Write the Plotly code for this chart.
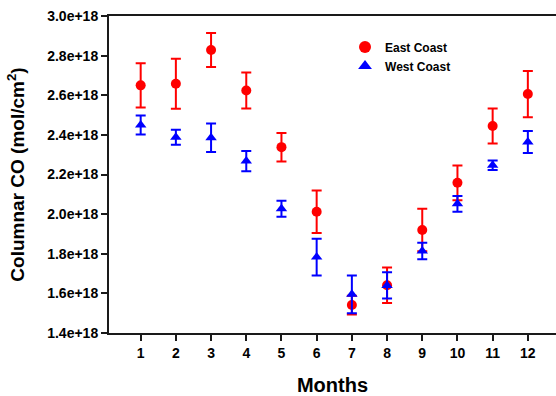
import plotly.graph_objects as go

months = [1, 2, 3, 4, 5, 6, 7, 8, 9, 10, 11, 12]
month_labels = ["1", "2", "3", "4", "5", "6", "7", "8", "9", "10", "11", "12"]

east_co = [2.650e18, 2.658e18, 2.828e18, 2.624e18, 2.338e18, 2.012e18,
           1.541e18, 1.641e18, 1.920e18, 2.158e18, 2.445e18, 2.606e18]
east_err = [0.112e18, 0.126e18, 0.086e18, 0.091e18, 0.072e18, 0.107e18,
            0.047e18, 0.090e18, 0.107e18, 0.088e18, 0.088e18, 0.117e18]

west_co = [2.450e18, 2.388e18, 2.386e18, 2.268e18, 2.027e18, 1.783e18,
           1.595e18, 1.640e18, 1.814e18, 2.052e18, 2.247e18, 2.364e18]
west_err = [0.048e18, 0.038e18, 0.072e18, 0.051e18, 0.040e18, 0.093e18,
            0.095e18, 0.066e18, 0.042e18, 0.040e18, 0.024e18, 0.055e18]

y_ticks = [1.4e18, 1.6e18, 1.8e18, 2.0e18, 2.2e18, 2.4e18, 2.6e18, 2.8e18, 3.0e18]
y_tick_labels = ["1.4e+18", "1.6e+18", "1.8e+18", "2.0e+18", "2.2e+18",
                 "2.4e+18", "2.6e+18", "2.8e+18", "3.0e+18"]

FONT = "Arial, Liberation Sans, sans-serif"

fig = go.Figure()
fig.add_trace(go.Scatter(
    x=months, y=east_co, mode="markers", name="<b>East Coast</b>",
    marker=dict(symbol="circle", size=10, color="#ff0000"),
    error_y=dict(type="data", array=east_err, color="#ff0000", thickness=2, width=5),
))
fig.add_trace(go.Scatter(
    x=months, y=west_co, mode="markers", name="<b>West Coast</b>",
    marker=dict(symbol="triangle-up", size=10, color="#0000ff"),
    error_y=dict(type="data", array=west_err, color="#0000ff", thickness=2, width=5),
))

fig.update_layout(
    width=556, height=396,
    margin=dict(l=109, r=0, t=16, b=63),
    paper_bgcolor="white", plot_bgcolor="white",
    font=dict(family=FONT, color="black"),
    showlegend=True,
    legend=dict(x=0.528, y=0.948, xanchor="left", yanchor="top",
                font=dict(size=12, family=FONT, color="black"),
                bgcolor="rgba(0,0,0,0)", tracegroupgap=0, itemsizing="constant"),
    xaxis=dict(
        range=[0.1, 12.8], tickvals=months, ticktext=["<b>%s</b>" % t for t in month_labels],
        showgrid=False, zeroline=False, showline=True, linecolor="#1a1a1a", linewidth=2,
        mirror=True, ticks="outside", ticklen=6, tickwidth=2, tickcolor="#1a1a1a",
        tickfont=dict(size=14, family=FONT),
        title=dict(text="<b>Months</b>", font=dict(size=20, family=FONT), standoff=19),
    ),
    yaxis=dict(
        range=[1.4e18, 3.0e18], tickvals=y_ticks,
        ticktext=["<b>%s</b>" % t for t in y_tick_labels],
        showgrid=False, zeroline=False, showline=True, linecolor="#1a1a1a", linewidth=2,
        ticks="outside", ticklen=6, tickwidth=2, tickcolor="#1a1a1a",
        tickfont=dict(size=14, family=FONT),
        title=dict(text="<b>Columnar CO (mol/cm<sup>2</sup>)</b>",
                   font=dict(size=19, family=FONT), standoff=18),
    ),
)

fig.write_html("out.html")
